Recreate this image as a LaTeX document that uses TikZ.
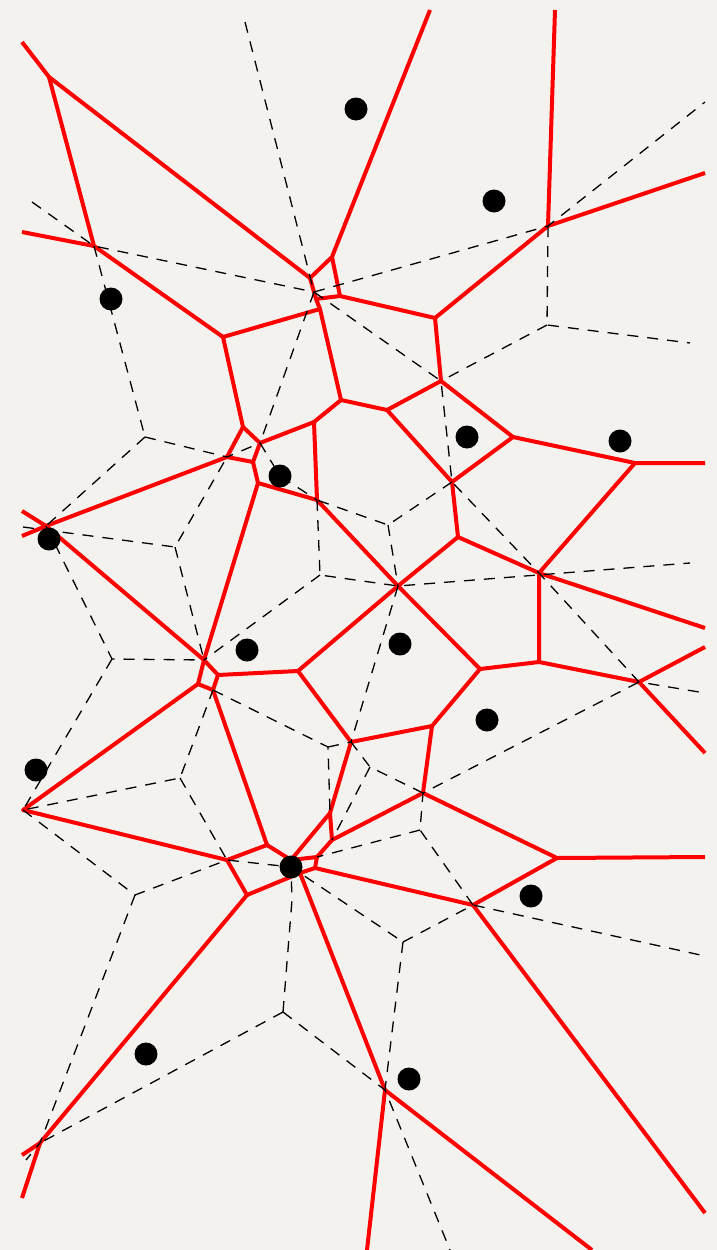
\documentclass[tikz,border=0pt]{standalone}
\begin{document}
\begin{tikzpicture}[x=1pt,y=-1pt]
\definecolor{bg}{HTML}{F4F2EE}
\definecolor{vred}{HTML}{FF0000}
\tikzset{
  redge/.style={draw=vred, line width=4pt, line join=round},
  dedge/.style={draw=black, line width=1.3pt, dash pattern=on 11pt off 9pt},
  site/.style={circle, fill=black, inner sep=0pt, minimum size=23pt}
}
\fill[bg] (0,0) rectangle (717,1250);
\useasboundingbox (0,0) rectangle (717,1250);
% ---------- site positions ----------
\coordinate (p6) at (280,476);
\coordinate (p12) at (291,867);
% ---------- red vertices ----------
\coordinate (rA) at (49,77);
\coordinate (rB) at (310,278);
\coordinate (rC) at (94,246);
\coordinate (rD) at (223,337);
\coordinate (rE) at (332,257);
\coordinate (rF) at (340,296);
\coordinate (rG) at (316,299);
\coordinate (rG2) at (320,309);
\coordinate (rH) at (548,226);
\coordinate (rI) at (435,318);
\coordinate (rJ) at (441,381);
\coordinate (rL) at (341,400);
\coordinate (rM) at (387,410);
\coordinate (rN) at (452,482);
\coordinate (rO) at (458,537);
\coordinate (rU) at (513,437);
\coordinate (rV) at (635,463);
\coordinate (rW) at (539,573);
\coordinate (rX) at (539,662);
\coordinate (rY) at (480,669);
\coordinate (rZ) at (639,682);
\coordinate (rP) at (398,586);
\coordinate (rQ) at (314,422);
\coordinate (rK) at (243,427);
\coordinate (rR) at (260,443);
\coordinate (rK2) at (227,457);
\coordinate (rT1) at (253,462);
\coordinate (rT) at (258,483);
\coordinate (rS) at (317,500);
\coordinate (rGG) at (298,671);
\coordinate (rHH) at (351,742);
\coordinate (rII) at (432,726);
\coordinate (rJJ) at (423,793);
\coordinate (rKK) at (332,840);
\coordinate (rK3) at (330,813);
\coordinate (rAA) at (557,858);
\coordinate (rBB) at (473,905);
\coordinate (rCC) at (385,1090);
\coordinate (rDD) at (40,1143);
\coordinate (rEE) at (23,810);
\coordinate (rFF) at (227,860);
\coordinate (c1) at (204,660);
\coordinate (c2) at (198,684);
\coordinate (c3) at (213,690);
\coordinate (c4) at (218,675);
\coordinate (rV1) at (46,526);
\coordinate (rF2) at (267,845);
\coordinate (rF3) at (247,895);
\coordinate (rm1) at (291,860);
\coordinate (rm4) at (317,857);
\coordinate (rm2) at (315,868);
\coordinate (rm3) at (300,873);
% border ends
\coordinate (b1) at (22,42);
\coordinate (b2) at (22,232);
\coordinate (b3) at (430,10);
\coordinate (b4) at (555,10);
\coordinate (b5) at (705,173);
\coordinate (b6) at (705,463);
\coordinate (b7) at (705,628);
\coordinate (b8) at (705,647);
\coordinate (b9) at (705,753);
\coordinate (b10) at (705,857);
\coordinate (b11) at (705,1213);
\coordinate (b12) at (592,1250);
\coordinate (b13) at (367,1250);
\coordinate (b14) at (22,1155);
\coordinate (b15) at (22,1198);
\coordinate (b16) at (22,511);
\coordinate (b17) at (22,536);
% ---------- red edges ----------
\path[redge] (b1) -- (rA) -- (rB);
\path[redge] (rA) -- (rC) -- (rD);
\path[redge] (b2) -- (rC);
\path[redge] (b3) -- (rE) -- (rB) -- (rG) -- (rF) -- (rE);
\path[redge] (rG) -- (rG2);
\path[redge] (rD) -- (rG2) -- (rL);
\path[redge] (b4) -- (rH) -- (b5);
\path[redge] (rH) -- (rI) -- (rF);
\path[redge] (rI) -- (rJ) -- (rM) -- (rL) -- (rQ);
\path[redge] (rJ) -- (rU) -- (rN) -- (rM);
\path[redge] (rN) -- (rO) -- (rP);
\path[redge] (rO) -- (rW);
\path[redge] (rU) -- (rV) -- (b6);
\path[redge] (rV) -- (rW) -- (rX) -- (rY);
\path[redge] (rW) -- (b7);
\path[redge] (rX) -- (rZ) -- (b8);
\path[redge] (rZ) -- (b9);
\path[redge] (rD) -- (rK) -- (rR) -- (rQ) -- (rS);
\path[redge] (rK) -- (rK2) -- (rT1) -- (rR);
\path[redge] (rT1) -- (rT) -- (rS) -- (rP) -- (rGG);
\path[redge] (rP) -- (rY) -- (rII);
\path[redge] (rT) -- (c1);
\path[redge] (b16) -- (rV1) -- (b17);
\path[redge] (rV1) -- (rK2);
\path[redge] (rV1) -- (c1);
\path[redge] (c1) -- (c2) -- (c3) -- (c4) -- (c1);
\path[redge] (c4) -- (rGG) -- (rHH) -- (rII) -- (rJJ) -- (rAA) -- (b10);
\path[redge] (rJJ) -- (rKK) -- (rK3) -- (rHH);
\path[redge] (rAA) -- (rBB) -- (b11);
\path[redge] (rBB) -- (rm2);
\path[redge] (c2) -- (rEE) -- (rFF) -- (rF2) -- (c3);
\path[redge] (rF2) -- (rm1) -- (rK3);
\path[redge] (rKK) -- (rm4) -- (rm2) -- (rm3) -- (rm1) -- (rm4);
\path[redge] (rFF) -- (rF3) -- (rDD);
\path[redge] (rF3) -- (rm3) -- (rCC) -- (b12);
\path[redge] (rCC) -- (b13);
\path[redge] (rDD) -- (b14);
\path[redge] (rDD) -- (b15);
% ---------- dashed vertices ----------
\coordinate (d1) at (145,437);
\coordinate (d2) at (175,547);
\coordinate (d3) at (112,659);
\coordinate (d4) at (180,778);
\coordinate (d5) at (135,895);
\coordinate (d6) at (283,1012);
\coordinate (d7) at (403,942);
\coordinate (d8) at (328,747);
\coordinate (d9) at (388,525);
\coordinate (d10) at (320,575);
\coordinate (d11) at (420,830);
\coordinate (d12) at (547,325);
\coordinate (dc) at (314,292);
\coordinate (dch) at (370,767);
\coordinate (dm) at (292,900);
% dashed ends
\coordinate (e1) at (245,22);
\coordinate (e2) at (32,202);
\coordinate (e3) at (705,102);
\coordinate (e4) at (690,343);
\coordinate (e5) at (690,563);
\coordinate (e6) at (23,527);
\coordinate (e7) at (705,693);
\coordinate (e8) at (705,956);
\coordinate (e9) at (450,1250);
\coordinate (e10) at (26,1160);
% ---------- dashed edges ----------
\path[dedge] (e1) -- (dc);
\path[dedge] (e2) -- (rC) -- (dc);
\path[dedge] (rC) -- (d1);
\path[dedge] (dc) -- (rH) -- (e3);
\path[dedge] (rH) -- (d12) -- (e4);
\path[dedge] (d12) -- (rJ);
\path[dedge] (dc) -- (rJ) -- (rN) -- (rW) -- (rZ) -- (e7);
\path[dedge] (dc) -- (rR);
\path[dedge] (rN) -- (d9) -- (rS);
\path[dedge] (d1) -- (rK2) -- (rR) -- (p6) -- (rS);
\path[dedge] (d9) -- (rP);
\path[dedge] (rS) -- (d10) -- (rP) -- (e5);
\path[dedge] (d10) -- (c1);
\path[dedge] (rP) -- (rHH);
\path[dedge] (d1) -- (rV1);
\path[dedge] (e6) -- (d2) -- (rK2);
\path[dedge] (d2) -- (c1);
\path[dedge] (rV1) -- (d3) -- (c1);
\path[dedge] (d3) -- (rEE) -- (d4) -- (c3);
\path[dedge] (d4) -- (rFF);
\path[dedge] (rEE) -- (d5) -- (rFF) -- (p12) -- (d7);
\path[dedge] (d5) -- (rDD) -- (e10);
\path[dedge] (d6) -- (rDD);
\path[dedge] (d6) -- (rCC) -- (e9);
\path[dedge] (d7) -- (rCC);
\path[dedge] (d7) -- (rBB) -- (e8);
\path[dedge] (rBB) -- (d11) -- (rJJ) -- (rZ);
\path[dedge] (d11) -- (rm4);
\path[dedge] (rJJ) -- (dch) -- (rHH);
\path[dedge] (dch) -- (rKK);
\path[dedge] (c3) -- (d8) -- (rK3);
\path[dedge] (d8) -- (rHH);
\path[dedge] (d6) -- (dm) -- (p12);
% ---------- sites ----------
\node[site] (s1) at (356,109) {};
\node[site] (s2) at (494,201) {};
\node[site] (s3) at (111,299) {};
\node[site] (s4) at (467,437) {};
\node[site] (s5) at (620,441) {};
\node[site] (s6) at (p6) {};
\node[site] (s7) at (49,539) {};
\node[site] (s8) at (247,650) {};
\node[site] (s9) at (400,644) {};
\node[site] (s10) at (487,720) {};
\node[site] (s11) at (36,770) {};
\node[site] (s12) at (p12) {};
\node[site] (s13) at (531,896) {};
\node[site] (s14) at (146,1054) {};
\node[site] (s15) at (409,1079) {};
\end{tikzpicture}
\end{document}
